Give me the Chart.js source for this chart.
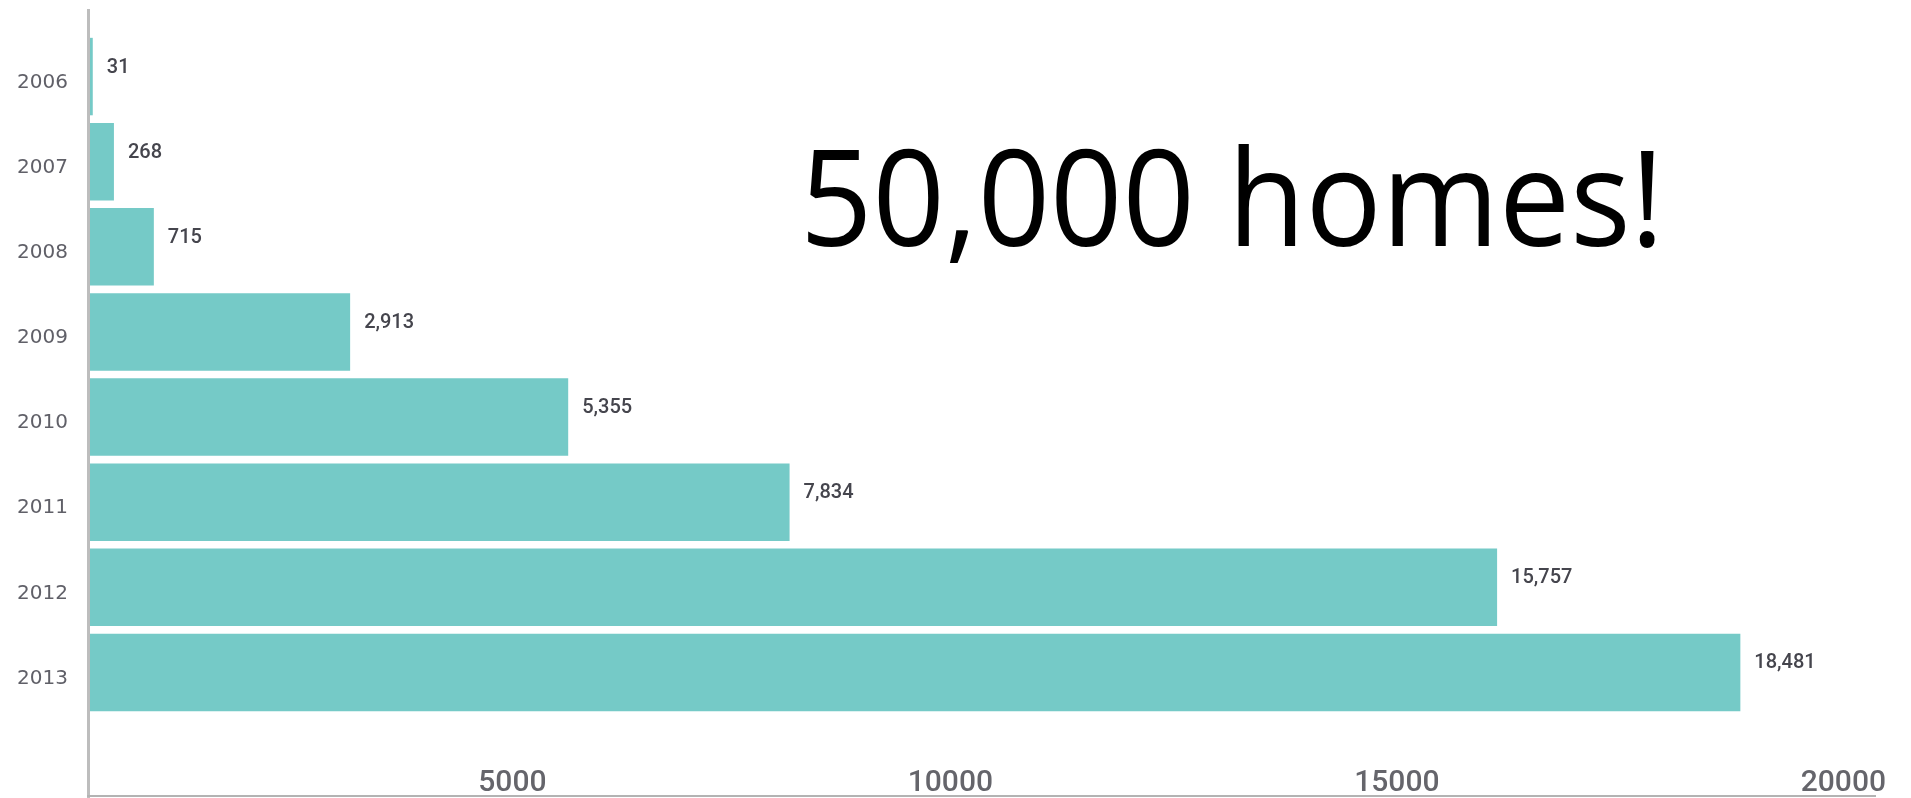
<!DOCTYPE html>
<html>
<head>
<meta charset="utf-8">
<script src="https://cdn.jsdelivr.net/npm/chart.js@4.4.1/dist/chart.umd.min.js"></script>
<style>
  html, body { margin: 0; padding: 0; background: #fff; }
  #wrap { width: 1911px; height: 798px; position: relative; }
</style>
</head>
<body>
<div id="wrap"><canvas id="chartHomes"></canvas></div>
<script>
// data
const years = ['2006', '2007', '2008', '2009', '2010', '2011', '2012', '2013'];
const homes = [31, 268, 715, 2913, 5355, 7834, 15757, 18481];
const xTickValues = [5000, 10000, 15000, 20000];
const headline = '50,000 homes!';

// grey axis lines, running past the plot area like the original
const axisLines = {
  id: 'axisLines',
  afterDatasetsDraw(chart) {
    const { ctx, chartArea } = chart;
    ctx.save();
    ctx.strokeStyle = '#bdbdbd';
    ctx.lineWidth = 3;
    ctx.beginPath();
    ctx.moveTo(chartArea.left - 1.5, 9);
    ctx.lineTo(chartArea.left - 1.5, chart.height);
    ctx.stroke();
    ctx.strokeStyle = '#b3b3b3';
    ctx.lineWidth = 2;
    ctx.beginPath();
    ctx.moveTo(chartArea.left - 3, chart.height - 2);
    ctx.lineTo(chartArea.right, chart.height - 2);
    ctx.stroke();
    ctx.restore();
  }
};

// value next to each bar
const barValues = {
  id: 'barValues',
  afterDatasetsDraw(chart) {
    const { ctx } = chart;
    const meta = chart.getDatasetMeta(0);
    ctx.save();
    ctx.font = '500 20px Roboto';
    ctx.fillStyle = '#45454d';
    ctx.textAlign = 'left';
    ctx.textBaseline = 'middle';
    meta.data.forEach((bar, i) => {
      ctx.fillText(homes[i].toLocaleString('en-US'), bar.x + 14, bar.y - 9);
    });
    ctx.restore();
  }
};

// the big caption over the chart
const headlineText = {
  id: 'headlineText',
  afterDraw(chart) {
    const { ctx } = chart;
    ctx.save();
    ctx.font = '134px "Open Sans"';
    ctx.fillStyle = '#000';
    ctx.textAlign = 'left';
    ctx.textBaseline = 'alphabetic';
    ctx.fillText(headline, 800, 246, 864);
    ctx.restore();
  }
};

const ctx = document.getElementById('chartHomes').getContext('2d');
new Chart(ctx, {
  type: 'bar',
  data: {
    labels: years,
    datasets: [{
      data: homes,
      backgroundColor: '#75cac7',
      borderWidth: 0,
      barPercentage: 0.91,
      categoryPercentage: 1
    }]
  },
  options: {
    indexAxis: 'y',
    responsive: true,
    maintainAspectRatio: false,
    animation: false,
    layout: { padding: { top: 30, right: 35, bottom: 0, left: 0 } },
    plugins: { legend: { display: false }, tooltip: { enabled: false } },
    scales: {
      x: {
        type: 'linear', min: 0, max: 20000,
        grid: { display: false, drawTicks: false },
        border: { display: false },
        afterBuildTicks: s => { s.ticks = xTickValues.map(v => ({ value: v })); },
        afterFit: s => { s.height = 83; s.paddingLeft = 0; s.paddingRight = 0; },
        ticks: { padding: 50, align: 'end', labelOffset: 10, color: '#65656b', font: { family: 'Roboto', size: 30, weight: '500' }, callback: v => String(v) }
      },
      y: {
        grid: { display: false, drawTicks: false },
        border: { display: false },
        afterFit: s => { s.width = 90; },
        ticks: { padding: 22, labelOffset: 6, color: '#606068', font: { family: 'DejaVu Sans', size: 20 } }
      }
    }
  },
  plugins: [axisLines, barValues, headlineText]
});
</script>
</body>
</html>
